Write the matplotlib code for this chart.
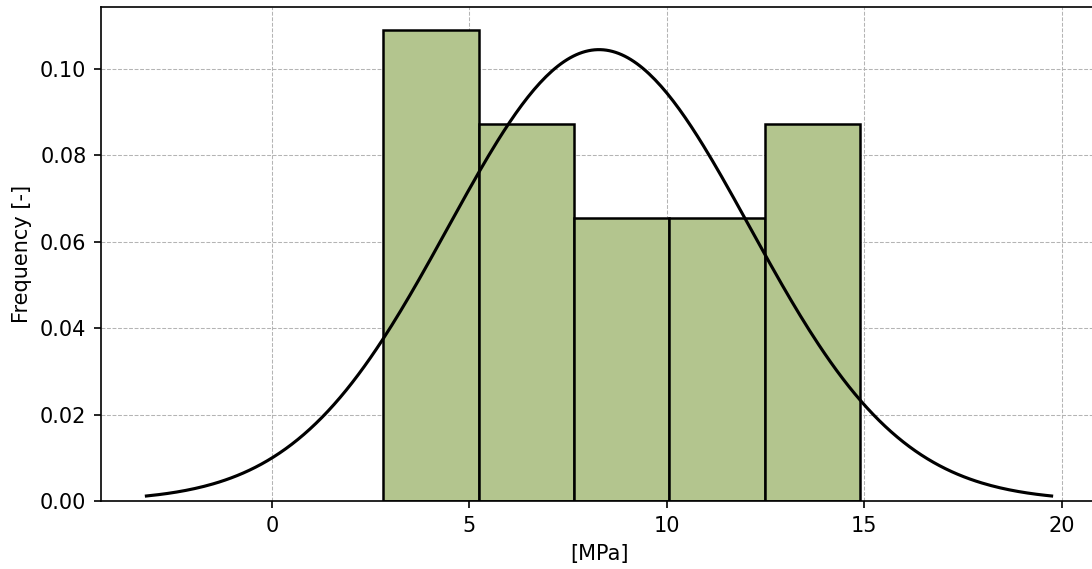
import numpy as np
import matplotlib
matplotlib.use("Agg")
import matplotlib.pyplot as plt

# Histogram (density) bins and heights
bin_edges = [2.81, 5.24, 7.65, 10.06, 12.48, 14.89]
densities = [0.1090, 0.0872, 0.0654, 0.0654, 0.0872]

# Fitted normal curve parameters
mu = 8.28
sigma = 3.82

fig = plt.figure(figsize=(1092 / 150, 569 / 150), dpi=150)
ax = fig.add_axes([101 / 1092, 68 / 569, 996 / 1092, 494 / 569])

lefts = bin_edges[:-1]
widths = np.diff(bin_edges)
ax.bar(lefts, densities, width=widths, align="edge", color="#b3c58e",
       edgecolor="black", linewidth=1.2, zorder=2)

xs = np.linspace(mu - 3 * sigma, mu + 3 * sigma, 300)
ys = np.exp(-0.5 * ((xs - mu) / sigma) ** 2) / (sigma * np.sqrt(2 * np.pi))
ax.plot(xs, ys, color="black", linewidth=1.5, zorder=3)

ax.set_xlim(-4.33, 20.89)
ax.set_ylim(0, 0.1143)
ax.set_xticks([0, 5, 10, 15, 20])
ax.set_yticks([0.0, 0.02, 0.04, 0.06, 0.08, 0.10])
ax.yaxis.set_major_formatter(matplotlib.ticker.FormatStrFormatter("%.2f"))
ax.grid(True, linestyle="--", color="#b4b4b4", linewidth=0.5, zorder=0)
ax.set_axisbelow(True)
ax.set_xlabel("[MPa]")
ax.set_ylabel("Frequency [-]")

fig.savefig("out.png", dpi=150)
